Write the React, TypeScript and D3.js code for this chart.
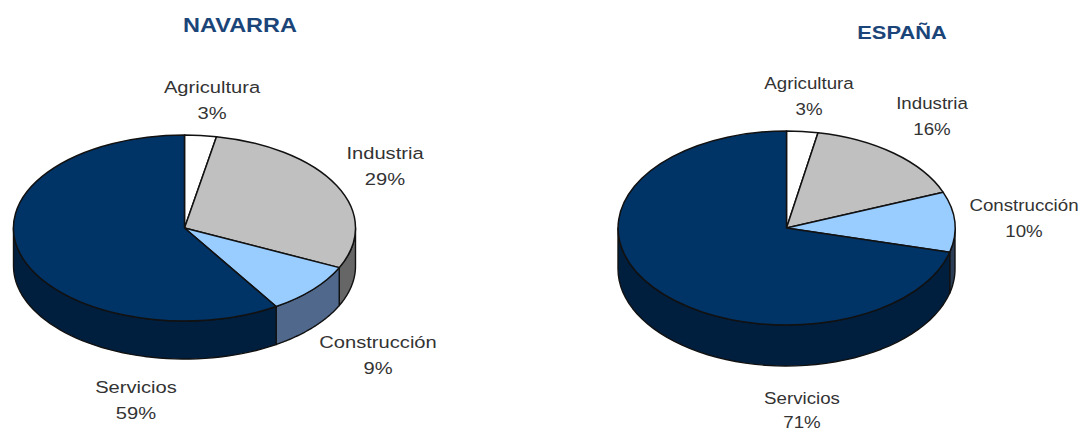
import React from "react";
import * as d3 from "d3";

// Sector names and shares for each territory
const categories = ["Agricultura", "Industria", "Construcción", "Servicios"];
const navarraValues = [3, 29, 9, 59];
const espanaValues = [3, 16, 10, 71];

const topColors = ["#ffffff", "#c0c0c0", "#99ccff", "#003366"];
const navarraWalls = ["#808080", "#666666", "#50688c", "#001f3f"];
const espanaWalls = ["#808080", "#666666", "#2c3e55", "#001f3f"];

type Label = { x: number; y: number; gap?: number };
type PieSpec = {
  title: string; titleX: number; titleY: number; titleSize: number; titleStretch: number;
  labelStretch: number;
  values: number[]; walls: string[];
  cx: number; cy: number; rx: number; ry: number; depth: number;
  labels: Label[];
};

const pies: PieSpec[] = [
  {
    title: "NAVARRA", titleX: 240, titleY: 32, titleSize: 20, titleStretch: 1.175,
    labelStretch: 1.185,
    values: navarraValues, walls: navarraWalls,
    cx: 184.5, cy: 228, rx: 171, ry: 93, depth: 38,
    labels: [{ x: 212, y: 93 }, { x: 385, y: 159 }, { x: 378, y: 348 }, { x: 136, y: 393 }],
  },
  {
    title: "ESPAÑA", titleX: 902, titleY: 39, titleSize: 19, titleStretch: 1.15,
    labelStretch: 1.1,
    values: espanaValues, walls: espanaWalls,
    cx: 786.5, cy: 228, rx: 168.5, ry: 97, depth: 41,
    labels: [{ x: 809, y: 89 }, { x: 932, y: 109 }, { x: 1024, y: 211 }, { x: 802, y: 404, gap: 24 }],
  },
];

const pieLayout = d3.pie<number>().sort(null);
const unitArc = d3.arc<d3.PieArcDatum<number>>().innerRadius(0).outerRadius(1);

// Builds the visible rim of one slice: only the part facing the viewer (90° to 270°)
function wallPath(a0: number, a1: number, p: PieSpec): string | null {
  const start = Math.max(a0, Math.PI / 2);
  const end = Math.min(a1, (3 * Math.PI) / 2);
  if (end <= start) return null;
  const angle = d3.scaleLinear().domain([0, 48]).range([start, end]);
  const samples = d3.range(49).map((i) => angle(i));
  const line = d3.line<[number, number]>();
  const upper = samples.map((a): [number, number] => [
    p.cx + p.rx * Math.sin(a),
    p.cy - p.ry * Math.cos(a),
  ]);
  const lower = upper.map(([x, y]): [number, number] => [x, y + p.depth]).reverse();
  return line([...upper, ...lower]) + "Z";
}

function Pie3D({ spec }: { spec: PieSpec }) {
  const arcs = pieLayout(spec.values);
  return (
    <g>
      <text
        transform={`translate(${spec.titleX},${spec.titleY}) scale(${spec.titleStretch},1)`}
        textAnchor="middle" fontSize={spec.titleSize} fontWeight="bold" fill="#1b4579"
      >
        {spec.title}
      </text>
      {arcs.map((d, i) => {
        const path = wallPath(d.startAngle, d.endAngle, spec);
        return path ? (
          <path key={i} d={path} fill={spec.walls[i]} stroke="#111" strokeWidth={1.4} strokeLinejoin="round" />
        ) : null;
      })}
      <g transform={`translate(${spec.cx},${spec.cy}) scale(${spec.rx},${spec.ry})`}>
        {arcs.map((d, i) => (
          <path
            key={i} d={unitArc(d) ?? ""} fill={topColors[i]}
            stroke="#111" strokeWidth={1.5} vectorEffect="non-scaling-stroke" strokeLinejoin="round"
          />
        ))}
      </g>
      {spec.labels.map((l, i) => (
        <text
          key={i} transform={`translate(${l.x},${l.y}) scale(${spec.labelStretch},1)`}
          textAnchor="middle" fontSize={17} fill="#333"
        >
          <tspan x={0}>{categories[i]}</tspan>
          <tspan x={0} dy={l.gap ?? 26}>{spec.values[i]}%</tspan>
        </text>
      ))}
    </g>
  );
}

export default function App() {
  return (
    <svg
      width={1082} height={432} viewBox="0 0 1082 432"
      style={{ position: "absolute", left: 0, top: 0, background: "#fff" }}
      fontFamily="'Liberation Sans', Arial, sans-serif"
    >
      {pies.map((p) => (
        <Pie3D key={p.title} spec={p} />
      ))}
    </svg>
  );
}
